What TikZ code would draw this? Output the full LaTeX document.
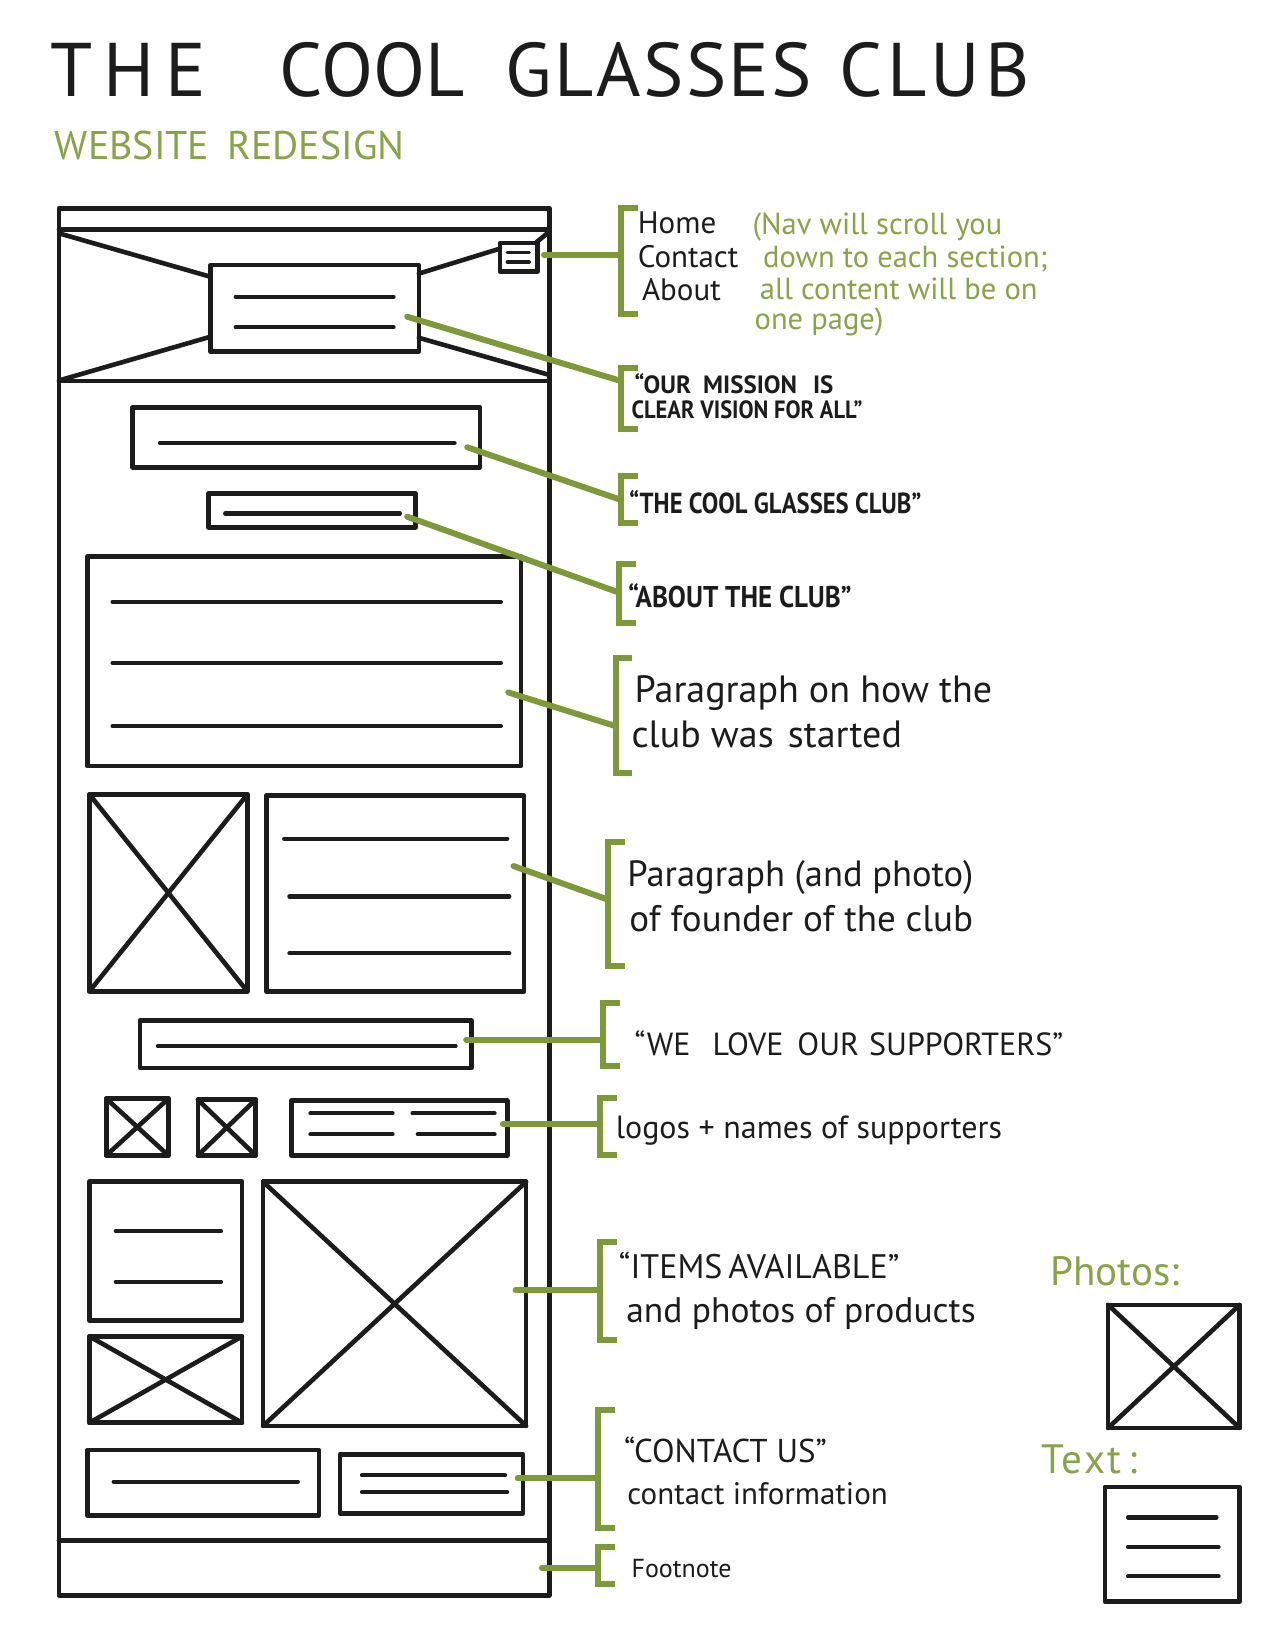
\documentclass[tikz,border=0pt]{standalone}
\usepackage{fontspec}
\setmainfont{PT Sans}
\newfontfamily\hand{PT Sans}
\newfontfamily\handn[FakeStretch=0.85]{PT Sans}
\newfontfamily\handm[FakeStretch=0.9]{PT Sans}
\newfontfamily\handw[LetterSpace=14]{PT Sans}
\newfontfamily\handv[LetterSpace=6]{PT Sans}
\newfontfamily\handu[LetterSpace=3]{PT Sans}
\definecolor{ink}{RGB}{28,28,28}
\definecolor{leaf}{RGB}{126,152,58}
\definecolor{leaflt}{RGB}{138,162,72}
\newcommand\mkbrk[5]{%
  \draw[brk] ({#2+16},#3) -- (#2,#3) -- (#2,#4) -- ({#2+16},#4);
  \coordinate (#1) at (#2,#5);}
\newcommand\xbox[4]{%
  \draw[pen] (#1,#2) rectangle (#3,#4);
  \draw[pen] (#1,#2) -- (#3,#4) (#1,#4) -- (#3,#2);}
\begin{document}
\begin{tikzpicture}[x=1.052pt,y=-1.052pt,
  pen/.style={draw=ink,line width=4.6pt,line cap=round,line join=round},
  tl/.style={draw=ink,line width=4.2pt,line cap=round},
  lead/.style={draw=leaf,line width=6pt,line cap=round},
  brk/.style={draw=leaf,line width=6pt,line cap=butt,line join=miter},
  lbl/.style={anchor=base west,inner sep=0pt,text=ink},
  glbl/.style={anchor=base west,inner sep=0pt,text=leaflt}]
\fill[white] (0,0) rectangle (1212,1568);
\useasboundingbox (0,0) rectangle (1212,1568);

% ---------- title ----------
\node[lbl,font=\hand\fontsize{76}{80}\selectfont] (title) at (48,92)
  {{\handw THE}\hspace{74pt}COOL\hspace{41pt}{\handu GLASSES}\hspace{27pt}{\handv CLUB}};
\node[glbl,font=\hand\fontsize{40}{44}\selectfont] (sub) at (52,152)
  {WEBSITE\hspace{18pt}REDESIGN};

% ---------- wireframe frame ----------
\draw[pen] (56,198) rectangle (522,1516);
\draw[pen] (56,218) -- (522,218);
\draw[pen] (56,362) -- (522,362);
\draw[pen] (56,1464) -- (522,1464);
% header image
\draw[pen] (200,252) rectangle (398,334);
\draw[tl] (224,282) -- (374,282);
\draw[tl] (224,311) -- (374,311);
\draw[pen] (57,222) -- (200,263);
\draw[pen] (58,361) -- (200,320);
\draw[pen] (398,260) -- (476,236);
\draw[pen] (398,321) -- (521,356);
\draw[pen] (510,230) -- (521,221);
% hamburger
\draw[pen,fill=white] (475,231) rectangle (511,258);
\draw[tl,line width=3.2pt] (482,240) -- (503,240);
\draw[tl,line width=3.2pt] (482,249) -- (503,249);
% title box
\draw[pen] (126,387) rectangle (456,444);
\draw[tl] (152,421) -- (432,421);
% about box
\draw[pen] (198,469) rectangle (395,501);
\draw[tl] (214,488) -- (380,488);
% paragraph
\draw[pen] (83,529) rectangle (495,728);
\draw[tl] (107,572) -- (476,572);
\draw[tl] (107,630) -- (476,630);
\draw[tl] (107,690) -- (476,690);
% founder
\xbox{85}{755}{235}{942}
\draw[pen] (253,756) rectangle (498,942);
\draw[tl] (270,797) -- (482,797);
\draw[tl] (275,852) -- (484,852);
\draw[tl] (275,906) -- (484,906);
% supporters heading
\draw[pen] (133,970) rectangle (448,1015);
\draw[tl] (150,994) -- (433,994);
% logos
\xbox{101}{1044}{160}{1098}
\xbox{188}{1045}{243}{1098}
\draw[pen] (277,1046) rectangle (482,1098);
\draw[tl] (295,1058) -- (373,1058);
\draw[tl] (392,1058) -- (470,1058);
\draw[tl] (295,1078) -- (373,1078);
\draw[tl] (397,1078) -- (470,1078);
% items
\draw[pen] (85,1123) rectangle (230,1255);
\draw[tl] (110,1170) -- (210,1170);
\draw[tl] (110,1218) -- (210,1218);
\xbox{85}{1270}{230}{1352}
\xbox{250}{1123}{500}{1355}
% contact
\draw[pen] (83,1378) rectangle (303,1440);
\draw[tl] (108,1408) -- (283,1408);
\draw[pen] (323,1382) rectangle (497,1438);
\draw[tl] (344,1402) -- (480,1402);
\draw[tl] (344,1418) -- (482,1418);

% ---------- connector starts ----------
\coordinate (s1) at (517,242);
\coordinate (s2) at (387,301);
\coordinate (s3) at (444,425);
\coordinate (s4) at (387,491);
\coordinate (s5) at (483,658);
\coordinate (s6) at (488,823);
\coordinate (s7) at (443,988);
\coordinate (s8) at (478,1068);
\coordinate (s9) at (490,1226);
\coordinate (s10) at (492,1405);
\coordinate (s11) at (515,1490);

% ---------- brackets ----------
\mkbrk{b1}{590}{198}{298}{242}
\mkbrk{b2}{590}{350}{408}{362}
\mkbrk{b3}{590}{452}{497}{475}
\mkbrk{b4}{588}{536}{592}{563}
\mkbrk{b5}{585}{625}{735}{690}
\mkbrk{b6}{578}{800}{918}{855}
\mkbrk{b7}{573}{953}{1013}{988}
\mkbrk{b8}{570}{1043}{1098}{1068}
\mkbrk{b9}{570}{1180}{1273}{1226}
\mkbrk{b10}{568}{1340}{1452}{1405}
\mkbrk{b11}{568}{1470}{1505}{1490}

\foreach \i in {1,...,11} { \draw[lead] (s\i) -- (b\i); }

% ---------- annotations ----------
\begin{scope}[every node/.append style={font=\hand\fontsize{31}{34}\selectfont}]
\node[lbl] (home) at (606,222) {Home};
\node[lbl] (contact) at (606,254) {Contact};
\node[lbl] (about) at (610,286) {About};
\end{scope}
\begin{scope}[every node/.append style={font=\hand\fontsize{30.5}{34}\selectfont}]
\node[glbl] (nav1) at (715,223) {(Nav will scroll you};
\node[glbl] (nav2) at (725,254) {down to each section;};
\node[glbl] (nav3) at (722,285) {all content will be on};
\node[glbl] (nav4) at (717,313) {one page)};
\end{scope}

\node[lbl,font=\hand\bfseries\fontsize{25}{28}\selectfont] (mis1) at (603,374) {“OUR\hspace{12pt}MISSION\hspace{16pt}IS};
\node[lbl,font=\handm\bfseries\fontsize{25}{28}\selectfont] (mis2) at (600,398) {CLEAR VISION FOR ALL”};
\node[lbl,font=\handn\bfseries\fontsize{29}{32}\selectfont] (tcgc) at (598,488) {“THE COOL GLASSES CLUB”};
\node[lbl,font=\handm\bfseries\fontsize{30}{34}\selectfont] (atc) at (597,577) {“ABOUT THE CLUB”};

\node[lbl,font=\hand\fontsize{38}{42}\selectfont] (p1) at (603,668) {Paragraph on how the};
\node[lbl,font=\hand\fontsize{38}{42}\selectfont] (p2) at (600,710) {club was \hspace{4pt}started};
\node[lbl,font=\hand\fontsize{36.5}{40}\selectfont] (f1) at (596,842) {Paragraph (and photo)};
\node[lbl,font=\hand\fontsize{37}{40}\selectfont] (f2) at (598,885) {of founder of the club};

\node[lbl,font=\hand\fontsize{32}{34}\selectfont] (love) at (603,1003) {“WE\hspace{22pt}LOVE\hspace{14pt}OUR\hspace{10pt}SUPPORTERS”};
\node[lbl,font=\hand\fontsize{32}{34}\selectfont] (logos) at (585,1082) {logos + names of supporters};

\node[lbl,font=\hand\fontsize{34}{36}\selectfont] (it1) at (588,1215) {“ITEMS\hspace{6pt}AVAILABLE”};
\node[lbl,font=\hand\fontsize{35.5}{38}\selectfont] (it2) at (595,1257) {and photos of products};

\node[lbl,font=\hand\fontsize{33}{36}\selectfont] (ct1) at (593,1390) {“CONTACT US”};
\node[lbl,font=\hand\fontsize{31}{34}\selectfont] (ct2) at (596,1430) {contact information};

\node[lbl,font=\hand\fontsize{26}{30}\selectfont] (foot) at (600,1499) {Footnote};

% ---------- legend ----------
\node[glbl,font=\hand\fontsize{41}{44}\selectfont] (photos) at (998,1222) {Photos:};
\xbox{1053}{1240}{1178}{1357}
\node[glbl,font=\handv\fontsize{41}{44}\selectfont] (text) at (990,1400) {Text\,:};
\draw[pen] (1050,1413) rectangle (1178,1522);
\draw[tl] (1072,1442) -- (1156,1442);
\draw[tl] (1072,1470) -- (1158,1470);
\draw[tl] (1072,1498) -- (1158,1498);
\end{tikzpicture}
\end{document}
